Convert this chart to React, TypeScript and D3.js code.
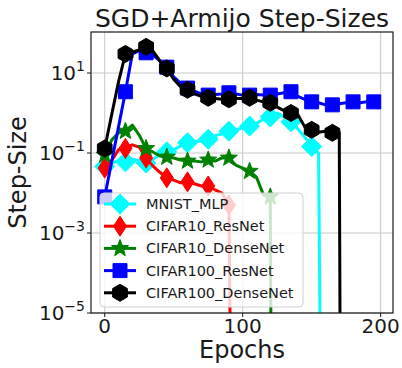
import * as d3 from "d3";

// epochs and step-size values (0 = step-size collapsed)
const mnistEpochs = [0, 5, 10, 15, 20, 25, 30, 35, 40, 45, 50, 55, 60, 65, 70, 75, 80, 85, 90, 95, 100, 105, 110, 115, 120, 125, 130, 135, 140, 145, 150, 155, 157];
const mnistValues = [0.046, 0.055, 0.065, 0.06, 0.07, 0.065, 0.056, 0.07, 0.09, 0.107, 0.12, 0.15, 0.18, 0.19, 0.2, 0.22, 0.27, 0.3, 0.35, 0.38, 0.42, 0.47, 0.55, 0.7, 0.8, 1.0, 0.8, 0.6, 0.4, 0.25, 0.145, 0.1, 0];

const c10ResEpochs = [0, 5, 10, 15, 20, 25, 30, 35, 40, 45, 50, 55, 60, 65, 70, 75, 80, 85, 90, 92];
const c10ResValues = [0.042, 0.065, 0.12, 0.13, 0.16, 0.14, 0.075, 0.047, 0.033, 0.024, 0.021, 0.018, 0.019, 0.017, 0.015, 0.015, 0.012, 0.01, 0.005, 0];

const c10DenseEpochs = [0, 5, 10, 15, 20, 25, 30, 35, 40, 45, 50, 55, 60, 65, 70, 75, 80, 85, 90, 95, 100, 105, 110, 115, 120, 121];
const c10DenseValues = [0.089, 0.21, 0.32, 0.35, 0.5, 0.28, 0.13, 0.106, 0.084, 0.079, 0.075, 0.067, 0.063, 0.063, 0.06, 0.067, 0.063, 0.075, 0.075, 0.05, 0.042, 0.035, 0.025, 0.009, 0.008, 0];

const c100ResEpochs = [0, 5, 10, 15, 20, 25, 30, 35, 40, 45, 50, 55, 60, 65, 70, 75, 80, 85, 90, 95, 100, 105, 110, 115, 120, 125, 130, 135, 140, 145, 150, 155, 160, 165, 170, 175, 180, 185, 190, 195, 199];
const c100ResValues = [0.008, 0.06, 0.45, 3.4, 30, 36, 32, 28, 20, 14, 8, 5.5, 4.2, 3.5, 3.0, 2.8, 2.9, 3.0, 3.2, 3.0, 2.8, 2.8, 2.9, 2.8, 2.8, 3.0, 3.2, 3.4, 2.6, 2.2, 1.9, 1.8, 1.6, 1.6, 1.7, 1.8, 1.9, 1.8, 1.9, 1.9, 1.3];

const c100DenseEpochs = [0, 5, 10, 15, 20, 25, 30, 35, 40, 45, 50, 55, 60, 65, 70, 75, 80, 85, 90, 95, 100, 105, 110, 115, 120, 125, 130, 135, 140, 145, 150, 155, 160, 165, 170, 171];
const c100DenseValues = [0.13, 0.9, 6, 30, 33, 38, 45, 35, 20, 13, 7, 4.5, 3.8, 3.0, 2.6, 2.4, 2.3, 2.2, 2.2, 2.3, 2.3, 2.4, 2.1, 1.9, 1.8, 1.4, 1.15, 1.0, 0.9, 0.45, 0.38, 0.33, 0.35, 0.32, 0.33, 0];

const seriesNames = ["MNIST_MLP", "CIFAR10_ResNet", "CIFAR10_DenseNet", "CIFAR100_ResNet", "CIFAR100_DenseNet"];
const seriesColors = ["#00ffff", "#ff0000", "#008000", "#0000ff", "#000000"];
const seriesMarkers = ["diamond", "thinDiamond", "star", "square", "hexagon"];

const xTicks = [0, 100, 200];
const yTicks = [1e1, 1e-1, 1e-3, 1e-5];
const yTickExps = ["1", "\u22121", "\u22123", "\u22125"];

const markEvery = 15;

const width = 402;
const height = 368;
const margin = { top: 32, right: 9, bottom: 55, left: 91 };
const font = "DejaVu Sans, sans-serif";

const markerPath = (kind: string) => {
  if (kind === "diamond") {
    const r = 10;
    return `M0,${-r}L${r},0L0,${r}L${-r},0Z`;
  }
  if (kind === "thinDiamond") {
    return "M0,-10L6.5,0L0,10L-6.5,0Z";
  }
  if (kind === "square") {
    const s = 7;
    return `M${-s},${-s}H${s}V${s}H${-s}Z`;
  }
  if (kind === "star") {
    const pts: string[] = [];
    for (let i = 0; i < 10; i++) {
      const r = i % 2 === 0 ? 9 : 3.8;
      const a = -Math.PI / 2 + (i * Math.PI) / 5;
      pts.push(`${r * Math.cos(a)},${r * Math.sin(a)}`);
    }
    return "M" + pts.join("L") + "Z";
  }
  // hexagon, pointy top
  const pts: string[] = [];
  for (let i = 0; i < 6; i++) {
    const a = -Math.PI / 2 + (i * Math.PI) / 3;
    pts.push(`${8.5 * Math.cos(a)},${8.5 * Math.sin(a)}`);
  }
  return "M" + pts.join("L") + "Z";
};

export default function App() {
  const x0 = margin.left;
  const x1 = width - margin.right;
  const y0 = height - margin.bottom;
  const y1 = margin.top;

  const xScale = d3.scaleLinear().domain([-9.95, 208.95]).range([x0, x1]);
  const yScale = d3.scaleLog().domain([1e-5, Math.pow(10, 2.025)]).range([y0, y1]);

  const series = [
    { epochs: mnistEpochs, values: mnistValues },
    { epochs: c10ResEpochs, values: c10ResValues },
    { epochs: c10DenseEpochs, values: c10DenseValues },
    { epochs: c100ResEpochs, values: c100ResValues },
    { epochs: c100DenseEpochs, values: c100DenseValues },
  ].map((s, i) => ({
    name: seriesNames[i],
    color: seriesColors[i],
    marker: seriesMarkers[i],
    points: s.epochs.map((e, j) => ({ epoch: e, value: s.values[j] })),
  }));

  const yOf = (v: number) => (v > 0 ? yScale(v) : yScale(1e-9));

  const line = d3
    .line<{ epoch: number; value: number }>()
    .x((d) => xScale(d.epoch))
    .y((d) => yOf(d.value));

  const legendX = 100;
  const legendY = 193;
  const legendW = 203;
  const legendH = 114;
  const rowH = 22.2;

  return (
    <svg
      width={width}
      height={height}
      style={{ position: "absolute", left: 0, top: 0, background: "#fff" }}
      fontFamily={font}
    >
      <defs>
        <clipPath id="plotClip">
          <rect x={x0} y={y1} width={x1 - x0} height={y0 - y1} />
        </clipPath>
      </defs>

      {/* grid */}
      {xTicks.map((t) => (
        <line key={"gx" + t} x1={xScale(t)} x2={xScale(t)} y1={y1} y2={y0} stroke="#c8c8c8" strokeWidth={1} />
      ))}
      {yTicks.map((t) => (
        <line key={"gy" + t} x1={x0} x2={x1} y1={yScale(t)} y2={yScale(t)} stroke="#c8c8c8" strokeWidth={1} />
      ))}

      {/* series */}
      <g clipPath="url(#plotClip)">
        {series.map((s) => (
          <g key={s.name}>
            <path d={line(s.points) ?? undefined} fill="none" stroke={s.color} strokeWidth={3} strokeLinejoin="round" />
            {s.points
              .filter((p) => p.value > 0 && p.epoch % markEvery === 0)
              .map((p) => (
                <path
                  key={p.epoch}
                  d={markerPath(s.marker)}
                  transform={`translate(${xScale(p.epoch)},${yOf(p.value)})`}
                  fill={s.color}
                  stroke={s.color}
                  strokeWidth={1}
                />
              ))}
          </g>
        ))}
      </g>

      {/* axes frame */}
      <rect x={x0} y={y1} width={x1 - x0} height={y0 - y1} fill="none" stroke="#1a1a1a" strokeWidth={1.2} />

      {/* x ticks */}
      {xTicks.map((t) => (
        <g key={"xt" + t}>
          <line x1={xScale(t)} x2={xScale(t)} y1={y0} y2={y0 + 4} stroke="#1a1a1a" />
          <text x={xScale(t)} y={333} textAnchor="middle" fontSize={20} fill="#1a1a1a">
            {t}
          </text>
        </g>
      ))}

      {/* y ticks */}
      {yTicks.map((t, i) => (
        <g key={"yt" + t}>
          <line x1={x0 - 4} x2={x0} y1={yScale(t)} y2={yScale(t)} stroke="#1a1a1a" />
          <text x={85} y={yScale(t) + 7} textAnchor="end" fontSize={20} fill="#1a1a1a">
            10
            <tspan fontSize={14} dy={-9}>
              {yTickExps[i]}
            </tspan>
          </text>
        </g>
      ))}

      {/* title and labels */}
      <text x={(x0 + x1) / 2} y={27} textAnchor="middle" fontSize={25} fill="#1a1a1a">
        SGD+Armijo Step-Sizes
      </text>
      <text x={(x0 + x1) / 2} y={358} textAnchor="middle" fontSize={24} fill="#1a1a1a">
        Epochs
      </text>
      <text
        transform={`translate(26,${(y0 + y1) / 2}) rotate(-90)`}
        textAnchor="middle"
        fontSize={24}
        fill="#1a1a1a"
      >
        Step-Size
      </text>

      {/* legend */}
      <rect
        x={legendX}
        y={legendY}
        width={legendW}
        height={legendH}
        rx={4}
        fill="#fff"
        fillOpacity={0.8}
        stroke="#d0d0d0"
        strokeWidth={1}
      />
      {series.map((s, i) => {
        const cy = legendY + 11 + i * rowH;
        return (
          <g key={"lg" + s.name}>
            <line x1={104} x2={136} y1={cy} y2={cy} stroke={s.color} strokeWidth={3} />
            <path d={markerPath(s.marker)} transform={`translate(120,${cy})`} fill={s.color} stroke={s.color} />
            <text x={146} y={cy + 5} fontSize={14.5} fill="#1a1a1a">
              {s.name}
            </text>
          </g>
        );
      })}
    </svg>
  );
}
